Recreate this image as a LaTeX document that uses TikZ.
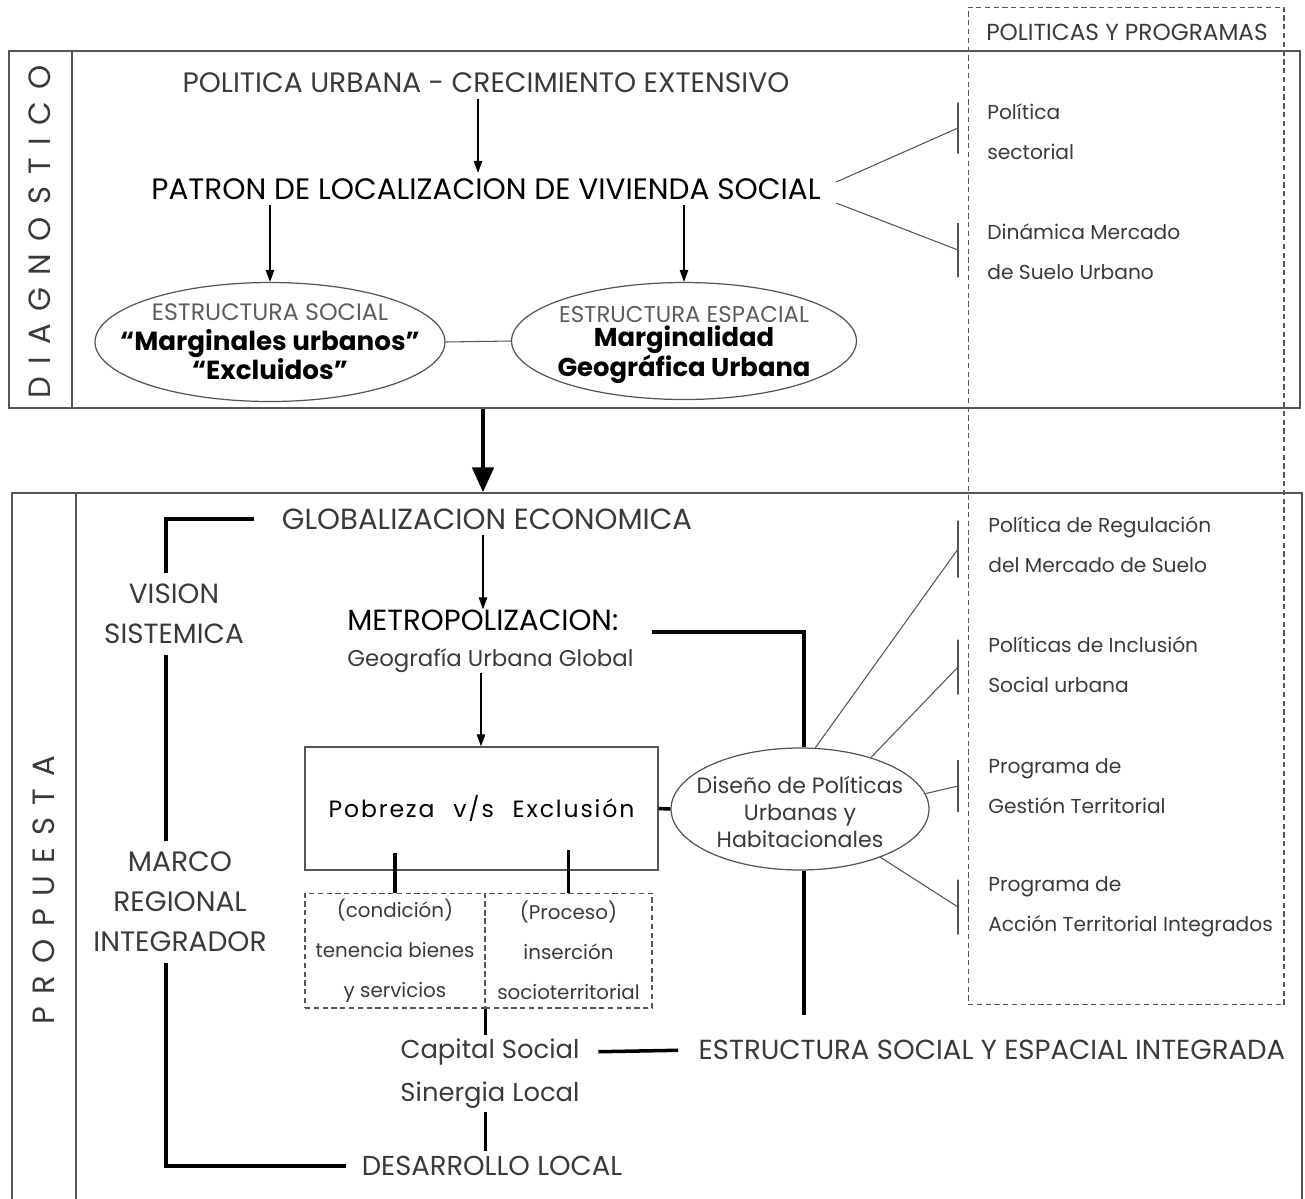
\documentclass[tikz,border=0pt]{standalone}
\usepackage{fontspec}
\setmainfont{Poppins}
\newfontfamily\spacedfont[LetterSpace=40]{Poppins}
\newfontfamily\widefont[LetterSpace=8]{Poppins}
\usetikzlibrary{arrows.meta,positioning,shapes.geometric}
\definecolor{inkgray}{HTML}{3A3A3A}
\definecolor{softgray}{HTML}{5C5C5C}
\definecolor{rulegray}{HTML}{555555}

\begin{document}
\begin{tikzpicture}[
  x=0.02cm, y=-0.02cm,
  >={Triangle[length=2.4mm,width=1.7mm]},
  caps/.style={font=\fontsize{15.7}{18}\selectfont, text=inkgray, inner sep=3pt},
  head/.style={font=\fontsize{16.6}{19}\selectfont, text=black, inner sep=3pt},
  lower/.style={font=\fontsize{13}{15}\selectfont, text=inkgray, inner sep=2pt},
  stack/.style={font=\fontsize{15.8}{22.8}\selectfont, text=inkgray, align=center, inner sep=6pt},
  listtext/.style={font=\fontsize{11.5}{22.8}\selectfont, text=inkgray, align=left, anchor=west, inner sep=0pt},
  bubble/.style={ellipse, draw=rulegray, line width=0.7pt, inner sep=0pt},
  bubbletext/.style={align=center, inner sep=0pt},
  panel/.style={draw=rulegray, line width=0.8pt, inner sep=0pt},
  dashbox/.style={draw=rulegray, line width=0.6pt, dash pattern=on 3pt off 2pt, inner sep=0pt},
  tickbar/.style={draw=rulegray, line width=0.6pt, minimum width=0pt, inner sep=0pt},
  thin/.style={draw=rulegray, line width=0.6pt},
  thickline/.style={draw=black, line width=2pt},
  arr/.style={->, draw=black, line width=0.7pt},
  bigarr/.style={-{Triangle[length=5mm,width=4.2mm]}, draw=black, line width=2.6pt}
]
\useasboundingbox (0,0) rectangle (1305,1198);

% panels and the policy column
\node[panel, minimum width=25.82cm, minimum height=7.14cm] (diag) at (654.5,229.5) {};
\node[panel, minimum width=25.80cm, minimum height=14.6cm] (prop) at (657,858) {};
\draw[panel] (72,51) -- (72,408);
\draw[panel] (76,493) -- (76,1210);
\node[dashbox, minimum width=6.32cm, minimum height=19.96cm] (polbox) at (1126,506) {};
\node[caps, font=\fontsize{13.2}{15}\selectfont] (poltitle) at (1127,32) {POLITICAS Y PROGRAMAS};

\node[rotate=90, font=\spacedfont\fontsize{17.5}{19}\selectfont, text=inkgray] (diaglabel) at (40,232) {DIAGNOSTICO};
\node[rotate=90, font=\spacedfont\fontsize{17.5}{19}\selectfont, text=inkgray] (proplabel) at (44,890) {PROPUESTA};

% diagnostico
\node[caps, font=\fontsize{16}{18}\selectfont] (polurb) at (486,83) {POLITICA URBANA - CRECIMIENTO EXTENSIVO};
\node[head, font=\fontsize{16.8}{19}\selectfont] (patron) at (486,189) {PATRON DE LOCALIZACION DE VIVIENDA SOCIAL};
\node[bubble, minimum width=7cm, minimum height=2.38cm] (esoc) at (270,342) {};
\node[bubbletext, font=\fontsize{13.5}{16.8}\selectfont] (esoctxt) at (esoc.center)
  {{\color{softgray}ESTRUCTURA SOCIAL}\\{\bfseries\fontsize{14.9}{16.8}\selectfont “Marginales urbanos”}\\{\bfseries\fontsize{14.9}{16.8}\selectfont “Excluidos”}};
\node[bubble, minimum width=6.9cm, minimum height=2.34cm] (eesp) at (684,341) {};
\node[bubbletext, font=\fontsize{13}{13}\selectfont] (eesptxt) at ([yshift=-0.08cm]eesp.center)
  {{\color{softgray}ESTRUCTURA ESPACIAL}\\[1pt]{\bfseries\fontsize{14.7}{13}\selectfont Marginalidad}\\{\bfseries\fontsize{14.7}{13}\selectfont Geográfica Urbana}};
\draw[arr] (polurb.south -| 478,0) -- (patron.north -| 478,0);
\draw[arr] (patron.south -| esoc.north) -- (esoc.north);
\draw[arr] (patron.south -| eesp.north) -- (eesp.north);
\draw[thin] (esoc.east) -- (eesp.west);

\node[tickbar, minimum height=1.02cm] (tk1) at (958,128) {};
\node[tickbar, minimum height=1.08cm] (tk2) at (958,250) {};
\node[listtext] (sect) at (987,132) {Política\\sectorial};
\node[listtext] (merc) at (987,252) {Dinámica Mercado\\de Suelo Urbano};
\draw[thin] ([xshift=0.2cm,yshift=0.14cm]patron.east) -- (tk1.center);
\draw[thin] ([xshift=0.2cm,yshift=-0.28cm]patron.east) -- (tk2.center);

\draw[bigarr] (diag.south -| 483,0) -- (prop.north -| 483,0);

% propuesta
\node[caps, font=\fontsize{16.6}{19}\selectfont] (glob) at (487,519) {GLOBALIZACION ECONOMICA};
\node[stack] (vis) at (174,614) {VISION\\SISTEMICA};
\node[stack, font=\fontsize{16}{22.8}\selectfont] (marco) at (180,902) {MARCO\\REGIONAL\\INTEGRADOR};
\coordinate (spine) at (166,0);
\node[head, anchor=west, inner sep=0pt] (metro) at (347,620) {METROPOLIZACION:};
\node[lower, anchor=west, inner sep=0pt] (geo) at (347,661) {Geografía Urbana Global};
\node[panel, minimum width=7.06cm, minimum height=2.46cm,
  font=\widefont\fontsize{13.4}{15}\selectfont] (pob) at (481.5,808.5)
  {Pobreza\hspace{0.8em}v/s\hspace{0.8em}Exclusión};
\node[dashbox, minimum width=3.6cm, minimum height=2.3cm, align=center,
  font=\fontsize{11.3}{22.8}\selectfont, text=inkgray] (cond) at (395,950.5)
  {(condición)\\tenencia bienes\\y servicios};
\node[dashbox, minimum width=3.34cm, minimum height=2.3cm, align=center,
  font=\fontsize{11.3}{22.8}\selectfont, text=inkgray] (proc) at (568.5,950.5)
  {(Proceso)\\inserción\\socioterritorial};
\node[lower, font=\fontsize{14.7}{17}\selectfont] (capital) at (490,1052) {Capital Social};
\node[lower, font=\fontsize{14.7}{17}\selectfont] (sinergia) at (490,1095) {Sinergia Local};
\node[caps, font=\fontsize{15.6}{18}\selectfont] (desa) at (492,1166) {DESARROLLO LOCAL};
\node[caps] (integ) at (992,1050) {ESTRUCTURA SOCIAL Y ESPACIAL INTEGRADA};
\node[bubble, minimum width=5.16cm, minimum height=2.44cm] (dis) at (800,809) {};
\node[bubbletext, font=\fontsize{12.6}{15.5}\selectfont, text=inkgray] (distxt) at ([yshift=-0.06cm]dis.center)
  {Diseño de Políticas\\Urbanas y\\Habitacionales};
\coordinate (disend) at (804,1015);

\draw[arr] (glob.south -| 483,0) -- (metro.north -| 483,0);
\draw[arr] (geo.south -| 481,0) -- (pob.north -| 481,0);
\draw[thickline, shorten <=0.45cm] (glob.west) -| (spine |- vis.north);
\draw[thickline] (spine |- vis.south) -- (spine |- marco.north);
\draw[thickline, shorten >=0.2cm] (spine |- marco.south) |- (desa.west);
\draw[thickline] ([xshift=0.66cm,yshift=-0.24cm]metro.east) -| (disend |- dis.north);
\draw[thickline] (pob.east) -- (dis.west);
\draw[thickline] (disend |- dis.south) -- (disend);
\draw[thickline] (cond.north) -- ++(0,-40);
\draw[thickline] (proc.north) -- ++(0,-43);
\draw[thickline] (cond.south east) -- (cond.south east |- capital.north);
\draw[thickline] (cond.south east |- sinergia.south) -- (cond.south east |- desa.north);
\draw[thickline, shorten <=0.3cm, shorten >=0.3cm] (capital.east) -- (integ.west);

\node[tickbar, minimum height=1.14cm] (tk3) at (958,549) {};
\node[tickbar, minimum height=1.10cm] (tk4) at (958,667) {};
\node[tickbar, minimum height=1.04cm] (tk5) at (958,786) {};
\node[tickbar, minimum height=1.10cm] (tk6) at (958,907) {};
\node[listtext] (regul) at (988,545) {Política de Regulación\\del Mercado de Suelo};
\node[listtext] (inclu) at (988,665) {Políticas de Inclusión\\Social urbana};
\node[listtext] (gest) at (988,786) {Programa de\\Gestión Territorial};
\node[listtext] (accion) at (988,907) {Programa de\\Acción Territorial Integrados};
\draw[thin] (dis.76) -- (tk3.center);
\draw[thin] (dis.36) -- (tk4.center);
\draw[thin] (dis.7) -- (tk5.center);
\draw[thin] (dis.-31) -- (tk6.center);
\end{tikzpicture}
\end{document}
